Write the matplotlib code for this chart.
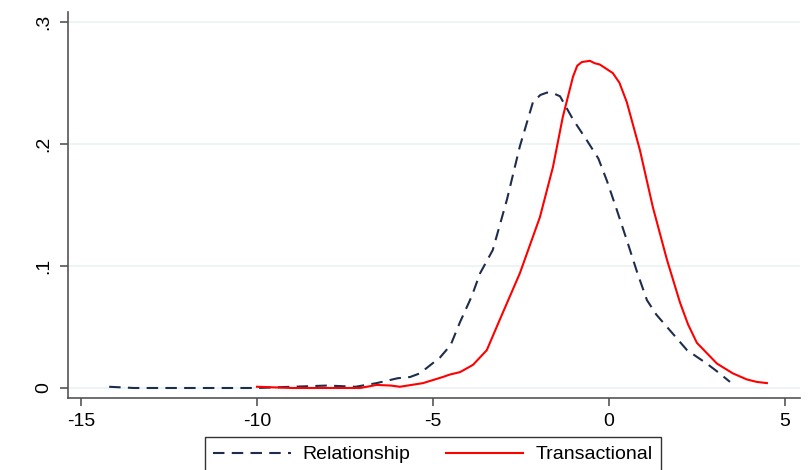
import numpy as np
import matplotlib.pyplot as plt

plt.rcParams['font.family'] = ['Liberation Sans', 'DejaVu Sans']
plt.rcParams['axes.unicode_minus'] = False

# kernel density estimates (x, density)
rel_x = [-14.2, -13.5, -12.5, -11.0, -10.0, -9.0, -8.0, -7.2, -6.6, -6.0, -5.65, -5.37,
         -4.8, -4.5, -4.23, -3.9, -3.66, -3.3, -2.9, -2.53, -2.16, -1.95, -1.76, -1.55,
         -1.39, -1.02, -0.63, -0.3, -0.06, 0.2, 0.51, 0.8, 1.08, 1.35, 1.65, 2.22, 2.78, 3.1, 3.44]
rel_y = [0.001, 0.0, 0.0, 0.0, 0.0, 0.001, 0.002, 0.001, 0.004, 0.008, 0.009, 0.012,
         0.025, 0.035, 0.054, 0.075, 0.094, 0.113, 0.154, 0.198, 0.234, 0.240, 0.242, 0.241,
         0.239, 0.220, 0.203, 0.188, 0.170, 0.148, 0.121, 0.095, 0.072, 0.060, 0.050, 0.031, 0.020, 0.013, 0.005]

tr_x = [-10.0, -9.0, -8.0, -7.07, -6.6, -6.2, -5.94, -5.28, -4.72, -4.52, -4.23, -3.86, -3.47,
        -3.10, -2.8, -2.53, -1.96, -1.59, -1.31, -1.02, -0.9, -0.77, -0.54, -0.4, -0.26, 0.11,
        0.3, 0.51, 0.88, 1.25, 1.65, 2.02, 2.25, 2.50, 3.07, 3.52, 3.92, 4.2, 4.49]
tr_y = [0.001, 0.0, 0.0, 0.0, 0.0025, 0.002, 0.001, 0.004, 0.009, 0.011, 0.013, 0.019, 0.031,
        0.056, 0.076, 0.094, 0.140, 0.181, 0.222, 0.255, 0.264, 0.267, 0.268, 0.266, 0.265, 0.258,
        0.250, 0.234, 0.195, 0.148, 0.105, 0.070, 0.052, 0.037, 0.020, 0.012, 0.007, 0.005, 0.004]

xticks = [-15, -10, -5, 0, 5]
yticks = [0, 0.1, 0.2, 0.3]
ylabels = ['0', '.1', '.2', '.3']

fig = plt.figure(figsize=(8.09, 4.70), dpi=100)
ax = fig.add_axes([68/809, 72/470, (800-68)/809, (398-12)/470])

ax.plot(rel_x, rel_y, color='#1f2d4d', lw=1.5, dashes=(5.5, 3.5), label='Relationship')
ax.plot(tr_x, tr_y, color='#ff0000', lw=1.5, label='Transactional')

ax.set_xlim(-15.37, 5.43)
ax.set_ylim(-0.0082, 0.308)
ax.set_xticks(xticks)
ax.set_yticks(yticks)
ax.set_yticklabels(ylabels, rotation=90, va='center')
ax.tick_params(labelsize=14, length=6, color='#555555', width=1.2, pad=5)
ax.grid(axis='y', color='#eaf2f3', lw=1.2)
ax.set_axisbelow(True)
for s in ['top', 'right']:
    ax.spines[s].set_visible(False)
for s in ['left', 'bottom']:
    ax.spines[s].set_color('#555555')
    ax.spines[s].set_linewidth(1.2)

fig.legend(loc='upper center', bbox_to_anchor=(0.535, 0.070), ncol=2, fontsize=14,
           frameon=True, fancybox=False, edgecolor='black', handlelength=4,
           handletextpad=0.6, columnspacing=1.8, borderpad=0.45, borderaxespad=0)

fig.savefig('out.png', dpi=100)
